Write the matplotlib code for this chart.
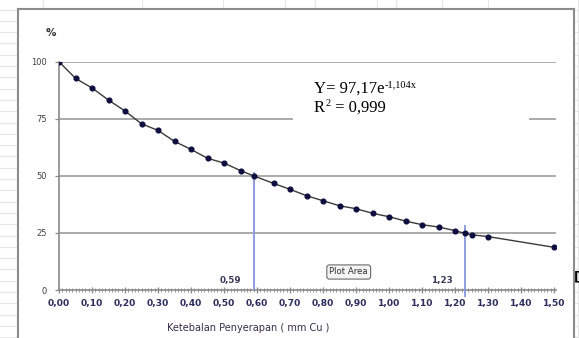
import numpy as np
import matplotlib
matplotlib.use("Agg")
import matplotlib.pyplot as plt
from matplotlib.lines import Line2D
from matplotlib.patches import Rectangle

# ketebalan penyerapan (mm Cu) vs intensitas relatif (%)
tebal = [0.00, 0.05, 0.10, 0.15, 0.20, 0.25, 0.30, 0.35, 0.40, 0.45, 0.50,
         0.55, 0.59, 0.65, 0.70, 0.75, 0.80, 0.85, 0.90, 0.95, 1.00, 1.05,
         1.10, 1.15, 1.20, 1.23, 1.25, 1.30, 1.50]
persen = [100.0, 92.7, 88.5, 83.2, 78.4, 72.8, 69.9, 65.1, 61.6, 57.7, 55.6,
          52.3, 50.0, 46.7, 44.1, 41.3, 39.1, 36.9, 35.6, 33.6, 32.1, 30.2,
          28.6, 27.6, 26.0, 24.8, 24.2, 23.4, 18.7]

# titik baca HVL / QVL
tanda_x = [0.59, 1.23]
tanda_atas = [51.8, 28.5]
tanda_bawah = [0.0, -2.9]

xticks = np.round(np.arange(0, 1.51, 0.1), 2)
xlabels = [("%.2f" % v).replace(".", ",") for v in xticks]
yticks = [0, 25, 50, 75, 100]

W, H = 579, 338
fig = plt.figure(figsize=(W / 100, H / 100), dpi=100)
fig.patch.set_facecolor("white")


def fx(px):
    return px / W


def fy(py):
    return 1 - py / H


# garis-garis lembar kerja di belakang chart
sheet = "#e6e6e6"
for py in np.arange(9.5, 338, 11.3):
    fig.add_artist(Line2D([0, fx(17)], [fy(py), fy(py)], color=sheet, lw=0.8))
    fig.add_artist(Line2D([fx(575), 1], [fy(py), fy(py)], color=sheet, lw=0.8))
for px in [43, 142, 223, 285, 315, 377, 396, 442, 488]:
    fig.add_artist(Line2D([fx(px), fx(px)], [fy(0), fy(8)], color=sheet, lw=0.8))
fig.add_artist(Line2D([fx(578), fx(578)], [0, 1], color=sheet, lw=0.8))

# bingkai chart
frame = "#8c8c8c"
fig.add_artist(Line2D([fx(18), fx(18)], [fy(9), 0], color=frame, lw=1.5))
fig.add_artist(Line2D([fx(18), fx(573.5)], [fy(9), fy(9)], color=frame, lw=1.5))
fig.add_artist(Line2D([fx(573.5), fx(573.5)], [fy(9), 0], color=frame, lw=1.5))

ax = fig.add_axes([fx(59), fy(290), fx(556) - fx(59), fy(61.7) - fy(290)])
ax.set_xlim(0, 1.506)
ax.set_ylim(0, 100)
ax.set_facecolor("none")

for s in ["top", "right"]:
    ax.spines[s].set_visible(False)
ax.spines["left"].set_color("#8a8a8a")
ax.spines["bottom"].set_color("#8a8a8a")
ax.spines["left"].set_linewidth(1.2)
ax.spines["bottom"].set_linewidth(1.2)

for yv in yticks[1:]:
    ax.hlines(yv, 0, 1.506, color="#a4a4a4", lw=1.3, zorder=1)

# kotak label persamaan menutup garis 75
ax.add_patch(Rectangle((0.709, 72.0), 0.715, 24.0, facecolor="white",
                       edgecolor="none", zorder=2))

ax.plot(tebal, persen, color="#3a3a3a", lw=1.0, marker="o", ms=3.4,
        mfc="#0d0d40", mec="#0d0d40", zorder=4)

for xv, atas, bawah in zip(tanda_x, tanda_atas, tanda_bawah):
    ax.vlines(xv, bawah, atas, color="#8596e0", lw=1.3, zorder=3, clip_on=False)
    ax.text(xv - 0.07, 4.0, ("%.2f" % xv).replace(".", ","), ha="center",
            va="center", fontsize=6.3, fontweight="bold", color="#3a3a5a")

ax.set_xticks(xticks)
ax.set_xticklabels(xlabels)
ax.set_xticks(np.round(np.arange(0, 1.501, 0.01), 2), minor=True)
ax.tick_params(axis="x", which="major", direction="inout", length=5, width=0.9,
               color="#8a8a8a", labelsize=6.6, labelcolor="#2e2e5e", pad=4)
ax.tick_params(axis="x", which="minor", direction="inout", length=3, width=0.6,
               color="#8a8a8a")
for lab in ax.get_xticklabels():
    lab.set_fontweight("bold")

ax.set_yticks(yticks)
ax.set_yticklabels([str(v) for v in yticks])
ax.tick_params(axis="y", direction="out", length=3, width=0.9, color="#8a8a8a",
               labelsize=6, labelcolor="#404040", pad=6)

# persamaan trendline: teks dasar + pangkat kecil di sebelahnya
serif = "Liberation Serif"
renderer = fig.canvas.get_renderer()
baris = [("Y= 97,17e", "-1,104x", "", 92.5),
         ("R", "2", " = 0,999", 111.5)]
for depan, pangkat, belakang, py in baris:
    t = fig.text(fx(314), fy(py), depan, family=serif, fontsize=12,
                 color="black", va="baseline")
    x1 = t.get_window_extent(renderer).x1
    t2 = fig.text(x1 / W + 0.5 / W, fy(py - 5.5), pangkat, family=serif,
                  fontsize=7.5, color="black", va="baseline")
    if belakang:
        x2 = t2.get_window_extent(renderer).x1
        fig.text(x2 / W, fy(py), belakang, family=serif, fontsize=12,
                 color="black", va="baseline")

fig.text(fx(51), fy(33), "%", fontsize=7.5, fontweight="bold", color="#303030",
         ha="center", va="center")
fig.text(fx(248), fy(328), "Ketebalan Penyerapan ( mm Cu )", fontsize=7,
         color="#3b2b4b", ha="center", va="center")

fig.text(fx(348.7), fy(272), "Plot Area", fontsize=6.2, color="#303030",
         ha="center", va="center",
         bbox=dict(boxstyle="round,pad=0.3", fc="#f4f4f4", ec="#6a6a6a", lw=0.8))
fig.text(fx(577), fy(277), "[", fontsize=9, fontweight="bold", color="black",
         ha="center", va="center")

fig.savefig("out.png", dpi=100)
